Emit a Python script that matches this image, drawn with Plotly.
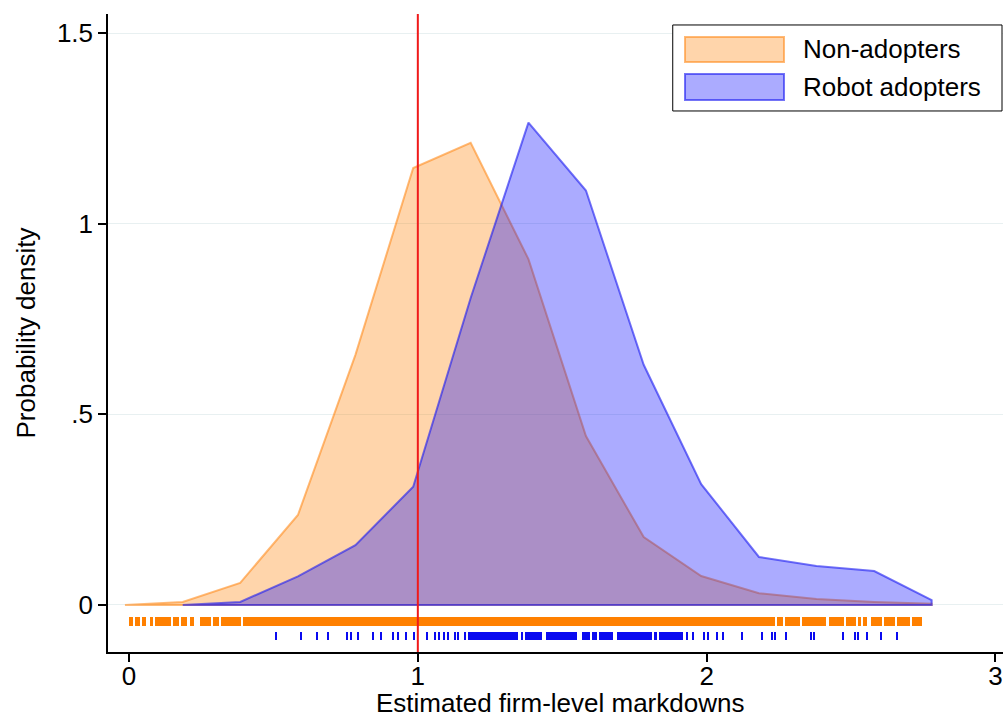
import plotly.graph_objects as go

# ---------------- data ----------------
grid_x_non = [-0.014, 0.186, 0.385, 0.585, 0.784, 0.984, 1.183, 1.383, 1.582, 1.782, 1.981, 2.181, 2.380, 2.580, 2.779]
dens_non = [0.0, 0.008, 0.058, 0.236, 0.656, 1.146, 1.212, 0.907, 0.443, 0.178, 0.076, 0.031, 0.016, 0.008, 0.003]

grid_x_rob = [0.186, 0.385, 0.585, 0.784, 0.984, 1.183, 1.383, 1.582, 1.782, 1.981, 2.181, 2.380, 2.580, 2.779]
dens_rob = [0.0, 0.008, 0.075, 0.157, 0.31, 0.805, 1.265, 1.087, 0.63, 0.317, 0.126, 0.102, 0.089, 0.013]

threshold = 1.0

# rug of observed markdowns (continuous runs of ticks: start, end)
orange_rug_spans = [
    (0.000, 0.014), (0.021, 0.038), (0.045, 0.059), (0.073, 0.083), (0.090, 0.145),
    (0.152, 0.173), (0.180, 0.201), (0.211, 0.225), (0.246, 0.284), (0.291, 0.312),
    (0.319, 0.388), (0.395, 2.237), (2.244, 2.265), (2.271, 2.323), (2.330, 2.413),
    (2.424, 2.476), (2.483, 2.518), (2.524, 2.535), (2.541, 2.555), (2.569, 2.607),
    (2.614, 2.652), (2.659, 2.704), (2.711, 2.746),
]
blue_rug_values = [
    0.509, 0.596, 0.651, 0.689, 0.755, 0.769, 0.793, 0.845, 0.873, 0.914, 0.931, 0.959,
    0.987, 1.032, 1.059, 1.073, 1.091, 1.105, 1.129, 1.139, 1.163, 1.361, 1.932, 1.953,
    1.991, 2.005, 2.036, 2.057, 2.123, 2.192, 2.226, 2.237, 2.275, 2.362, 2.372, 2.472,
    2.514, 2.524, 2.555, 2.604, 2.659,
]
blue_rug_spans = [
    (1.174, 1.347), (1.371, 1.430), (1.444, 1.551), (1.569, 1.596), (1.603, 1.621),
    (1.628, 1.676), (1.690, 1.811), (1.818, 1.828), (1.835, 1.918),
]

x_ticks = [0, 1, 2, 3]
y_ticks = [0, 0.5, 1, 1.5]
y_ticktext = ["0", ".5", "1", "1.5"]
series_names = ["Non-adopters", "Robot adopters"]
x_title = "Estimated firm-level markdowns"
y_title = "Probability density"

# ---------------- style ----------------
FONT = "Liberation Sans, Arial, sans-serif"
FS = 26
ORANGE_FILL = "rgba(255,127,0,0.33)"
ORANGE_LINE = "rgba(255,140,30,0.6)"
BLUE_FILL = "rgba(0,0,255,0.33)"
BLUE_LINE = "rgba(30,30,240,0.62)"
ORANGE_RUG = "#FF8000"
BLUE_RUG = "#0A0AF0"
RUG_ORANGE_Y = (-0.055, -0.0315)
RUG_BLUE_Y = (-0.0918, -0.0708)
BLUE_TICK_W = 0.0085

fig = go.Figure()


def closed(xs, ys):
    return list(xs) + [xs[-1], xs[0]], list(ys) + [0, 0]


cx, cy = closed(grid_x_non, dens_non)
fig.add_trace(go.Scatter(x=cx, y=cy, mode="lines", fill="toself", fillcolor=ORANGE_FILL,
                         line=dict(color=ORANGE_LINE, width=2), name=series_names[0],
                         showlegend=False, hoverinfo="skip"))
cx, cy = closed(grid_x_rob, dens_rob)
fig.add_trace(go.Scatter(x=cx, y=cy, mode="lines", fill="toself", fillcolor=BLUE_FILL,
                         line=dict(color=BLUE_LINE, width=2), name=series_names[1],
                         showlegend=False, hoverinfo="skip"))

# rugs as bars
o_x = [(s + e) / 2 for s, e in orange_rug_spans]
o_w = [max(e - s, 0.0104) for s, e in orange_rug_spans]
fig.add_trace(go.Bar(x=o_x, width=o_w, base=[RUG_ORANGE_Y[0]] * len(o_x),
                     y=[RUG_ORANGE_Y[1] - RUG_ORANGE_Y[0]] * len(o_x),
                     marker=dict(color=ORANGE_RUG, line=dict(width=0)),
                     showlegend=False, hoverinfo="skip"))
b_x = list(blue_rug_values) + [(s + e) / 2 for s, e in blue_rug_spans]
b_w = [BLUE_TICK_W] * len(blue_rug_values) + [e - s for s, e in blue_rug_spans]
fig.add_trace(go.Bar(x=b_x, width=b_w, base=[RUG_BLUE_Y[0]] * len(b_x),
                     y=[RUG_BLUE_Y[1] - RUG_BLUE_Y[0]] * len(b_x),
                     marker=dict(color=BLUE_RUG, line=dict(width=0)),
                     showlegend=False, hoverinfo="skip"))

fig.add_shape(type="line", xref="x", yref="paper", x0=threshold, x1=threshold, y0=0, y1=1,
              line=dict(color="#F01A1A", width=2), layer="above")

# custom legend (large swatches like the original)
fig.add_shape(type="rect", xref="paper", yref="paper", x0=0.631, x1=0.9989, y0=0.848, y1=0.9828,
              line=dict(color="black", width=1), fillcolor="white", layer="above")
legend_rows = [(0.9448, 0.9248, 0.964), (0.8856, 0.8652, 0.906)]
fills = [ORANGE_FILL, BLUE_FILL]
lines = [ORANGE_LINE, BLUE_LINE]
for (ty, y0, y1), name, fc, lc in zip(legend_rows, series_names, fills, lines):
    fig.add_shape(type="rect", xref="paper", yref="paper", x0=0.6447, x1=0.7553, y0=y0, y1=y1,
                  line=dict(color=lc, width=2), fillcolor=fc, layer="above")
    fig.add_annotation(xref="paper", yref="paper", x=0.7743, y=ty, text=name, showarrow=False,
                       xanchor="left", yanchor="middle", font=dict(family=FONT, size=FS, color="black"))

# x-axis title placed at the bottom edge
fig.add_annotation(xref="paper", yref="paper", x=0.505, y=0, yshift=-68, text=x_title,
                   showarrow=False, xanchor="center", yanchor="bottom",
                   font=dict(family=FONT, size=FS, color="black"))

fig.update_layout(
    width=1003, height=719,
    margin=dict(l=108, r=0, t=14, b=67),
    paper_bgcolor="white", plot_bgcolor="white",
    barmode="overlay", bargap=0,
    font=dict(family=FONT, size=FS, color="black"),
    showlegend=False,
)
fig.update_xaxes(range=[-0.0727, 3.026], tickvals=x_ticks, ticks="outside", ticklen=8, tickwidth=1.5,
                 tickcolor="black", showline=True, linecolor="black", linewidth=1.5, showgrid=False,
                 zeroline=False, automargin=False, ticklabelstandoff=-8, tickfont=dict(size=FS))
fig.update_yaxes(range=[-0.1233, 1.55], tickvals=y_ticks, ticktext=y_ticktext, ticks="outside",
                 ticklen=8, tickwidth=1.5, tickcolor="black", showline=True, linecolor="black",
                 linewidth=1.5, showgrid=True, gridcolor="#E8F0F1", gridwidth=1, zeroline=False,
                 automargin=False,
                 title=dict(text=y_title, standoff=14, font=dict(size=FS)),
                 tickfont=dict(size=FS))

fig.write_html("out.html")
